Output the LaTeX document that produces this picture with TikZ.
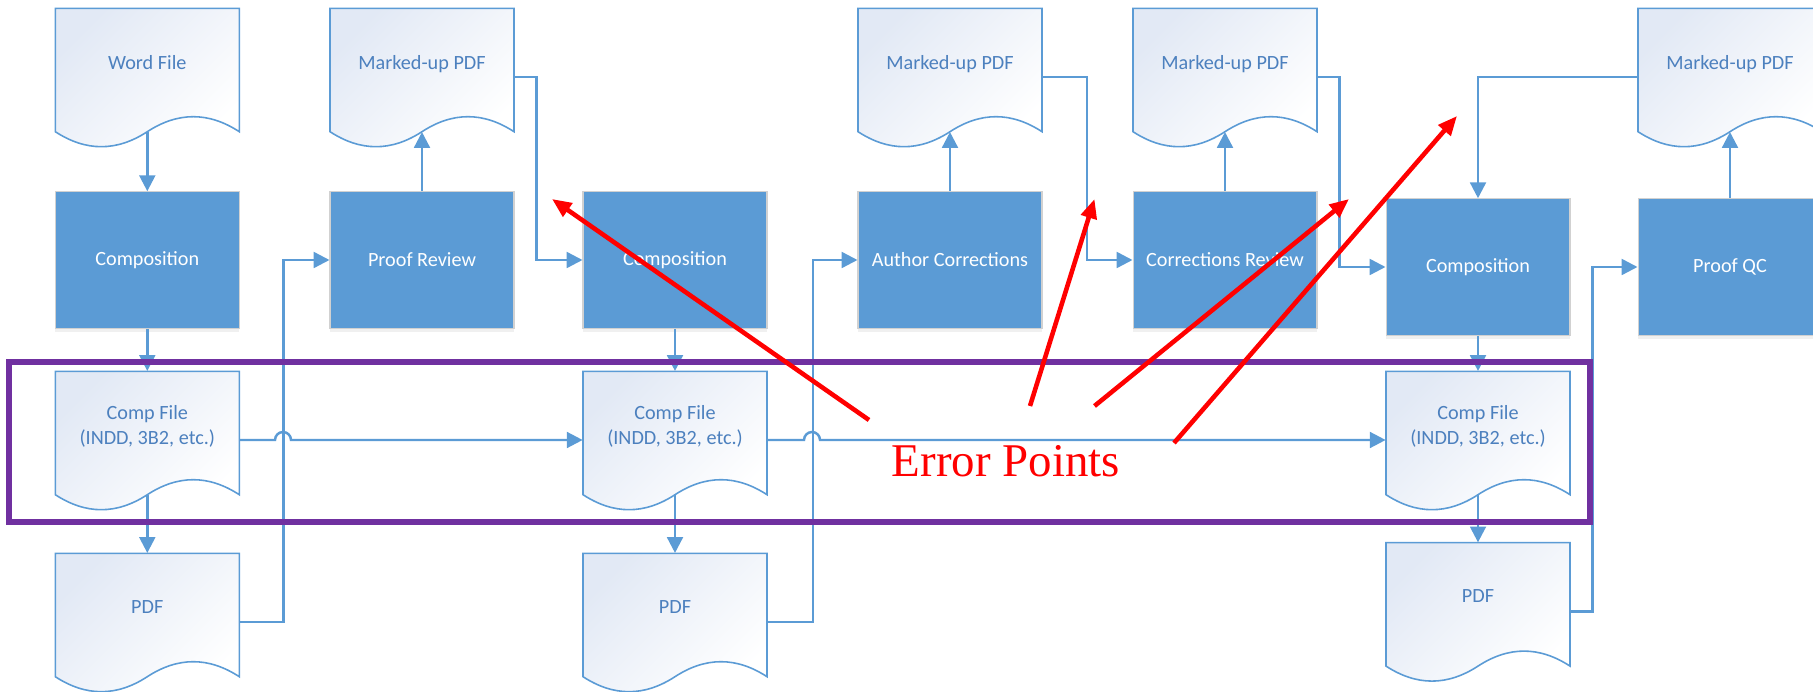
\documentclass[tikz,border=0pt]{standalone}
\usepackage{fontspec}
\setmainfont{Carlito}
\newfontfamily\errfont{Liberation Serif}
\usetikzlibrary{arrows.meta,shadows}

\definecolor{flowblue}{RGB}{91,155,213}
\definecolor{doctext}{RGB}{76,128,190}
\definecolor{docshade}{RGB}{226,233,245}
\definecolor{markpurple}{RGB}{112,48,160}

\tikzset{
  procbox/.style={rectangle, fill=flowblue, draw=black!18, line width=0.6pt,
    minimum width=3.68cm, minimum height=2.73cm, text=white,
    drop shadow={opacity=0.12, shadow xshift=0pt, shadow yshift=-2pt},
    font=\fontsize{11.5}{14}\selectfont},
  docline/.style={draw=flowblue, line width=0.9pt, top color=docshade,
    bottom color=white, shading angle=45},
  docfile/.style={rectangle, minimum width=3.68cm, minimum height=2.468cm,
    inner sep=0pt, text=doctext, align=center, text depth=9pt,
    font=\fontsize{11.5}{14.5}\selectfont},
  conn/.style={draw=flowblue, line width=1.4pt, -{Triangle[length=9pt,width=9pt]}},
  errarrow/.style={draw=red, line width=2.6pt, -{Triangle[length=11pt,width=9pt]}},
  errlabel/.style={text=red, font=\errfont\fontsize{26.7}{30}\selectfont}
}

% document symbol: name, x, y, text
\newcommand{\docfile}[4]{%
  \shadedraw[docline, shift={(#2,#3)}] (-92,-61.7) -- (92,-61.7) -- (92,61.7)
    .. controls (61.3,41.7) and (30.7,41.7) .. (0,61.7)
    .. controls (-30.7,81.7) and (-61.3,81.7) .. (-92,61.7) -- cycle;
  \node[docfile] (#1) at (#2,#3) {#4};
}

\begin{document}
\begin{tikzpicture}[x=0.02cm, y=-0.02cm]
\useasboundingbox (0,0) rectangle (1813,692);
\clip (0,0) rectangle (1813,692);

% first pass
\docfile{word}{147.3}{70}{Word File}
\node[procbox] (comp1) at (147.3,260) {Composition};
\docfile{cf1}{147.3}{433}{Comp File\\(INDD, 3B2, etc.)}
\docfile{pdf1}{147.3}{615}{PDF}
\docfile{mpdf1}{422}{70}{Marked-up PDF}
\node[procbox] (proofrev) at (422,260) {Proof Review};

% second pass
\node[procbox] (comp2) at (675,260) {Composition};
\docfile{cf2}{675}{433}{Comp File\\(INDD, 3B2, etc.)}
\docfile{pdf2}{675}{615}{PDF}
\docfile{mpdf2}{950}{70}{Marked-up PDF}
\node[procbox] (authcorr) at (950,260) {Author Corrections};
\docfile{mpdf3}{1225}{70}{Marked-up PDF}
\node[procbox] (corrrev) at (1225,260) {Corrections Review};

% third pass
\node[procbox] (comp3) at (1478,267) {Composition};
\docfile{cf3}{1478}{433}{Comp File\\(INDD, 3B2, etc.)}
\docfile{pdf3}{1478}{604.4}{PDF}
\docfile{mpdf4}{1730}{70}{Marked-up PDF}
\node[procbox] (proofqc) at (1730,267) {Proof QC};

% flow
\draw[conn] (word.south) -- (comp1.north);
\draw[conn] (comp1.south) -- (cf1.north);
\draw[conn] (cf1.south) -- (pdf1.north);
\draw[conn] ([yshift=-0.14cm]pdf1.east) -- ++(44,0) |- (proofrev.west);
\draw[conn] (proofrev.north) -- (mpdf1.south);
\draw[conn] ([yshift=-0.14cm]mpdf1.east) -- ++(22,0) |- (comp2.west);
\draw[conn] ([yshift=-0.14cm]cf1.east) -- (275,440)
  arc[start angle=180, end angle=0, radius=0.16cm] -- ([yshift=-0.14cm]cf2.west);
\draw[conn] (comp2.south) -- (cf2.north);
\draw[conn] (cf2.south) -- (pdf2.north);
\draw[conn] ([yshift=-0.14cm]pdf2.east) -- ++(45.5,0) |- (authcorr.west);
\draw[conn] (authcorr.north) -- (mpdf2.south);
\draw[conn] ([yshift=-0.14cm]mpdf2.east) -- ++(44.6,0) |- (corrrev.west);
\draw[conn] (corrrev.north) -- (mpdf3.south);
\draw[conn] ([yshift=-0.14cm]mpdf3.east) -- ++(22,0) |- (comp3.west);
\draw[conn] ([yshift=-0.14cm]cf2.east) -- (804,440)
  arc[start angle=180, end angle=0, radius=0.16cm] -- ([yshift=-0.14cm]cf3.west);
\draw[conn] ([yshift=-0.14cm]mpdf4.west) -| (comp3.north);
\draw[conn] (comp3.south) -- (cf3.north);
\draw[conn] (cf3.south) -- (pdf3.north);
\draw[conn] ([yshift=-0.14cm]pdf3.east) -- ++(22,0) |- (proofqc.west);
\draw[conn] (proofqc.north) -- (mpdf4.south);

% highlight and error points
\draw[markpurple, line width=3.4pt] (9,362) rectangle (1590,522);
\node[errlabel, anchor=base] (errtxt) at (1006,477) {Error Points};
\coordinate (tail1) at (869,420);  \coordinate (tip1) at (552,199);
\coordinate (tail2) at (1030,406); \coordinate (tip2) at (1094.5,199);
\coordinate (tail3) at (1094.5,406); \coordinate (tip3) at (1349,199);
\coordinate (tail4) at (1174,443); \coordinate (tip4) at (1457,116);
\draw[errarrow] (tail1) -- (tip1);
\draw[errarrow] (tail2) -- (tip2);
\draw[errarrow] (tail3) -- (tip3);
\draw[errarrow] (tail4) -- (tip4);
\end{tikzpicture}
\end{document}
